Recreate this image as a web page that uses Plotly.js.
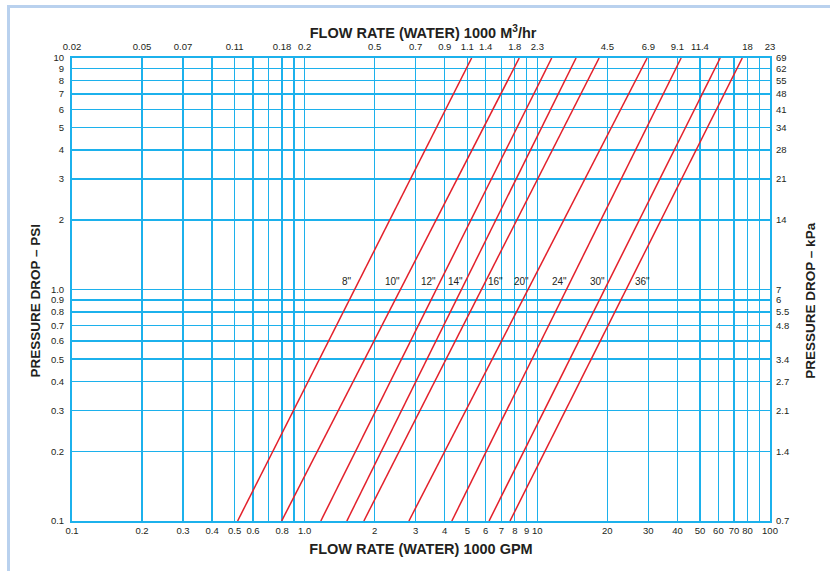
<!DOCTYPE html>
<html>
<head>
<meta charset="utf-8">
<script src="https://cdn.plot.ly/plotly-3.0.1.min.js"></script>
<style>
html,body{margin:0;padding:0;background:#fff;}
#frame{position:absolute;left:7px;top:5px;width:823px;height:566px;border-top:3px solid #b9d1ee;border-left:3px solid #b9d1ee;box-sizing:border-box;}
#chart{position:absolute;left:0;top:0;width:830px;height:571px;}
</style>
</head>
<body>
<div id="frame"></div>
<div id="chart"></div>
<script>
// Pipe sizes and flow (1000 GPM) read at 0.1 psi and at 10 psi
const pipeSizes = ['8"', '10"', '12"', '14"', '16"', '20"', '24"', '30"', '36"'];
const flowAtLowP = [0.515, 0.796, 1.173, 1.518, 1.796, 2.805, 4.29, 6.2, 7.63];
const flowAtHighP = [5.22, 8.36, 11.53, 14.67, 18.43, 29.65, 41.5, 61.1, 76.0];
const pressureEnds = [0.1, 10];

// label positions (log10 flow) for pipe size labels
const labelFlowLog = [0.181, 0.379, 0.534, 0.648, 0.822, 0.930, 1.0955, 1.257, 1.4505];
const labelPressLog = 0.035;

// Bottom axis (1000 GPM)
const gpmTickVals = [0.1,0.2,0.3,0.4,0.5,0.6,0.7,0.8,0.9,1,2,3,4,5,6,7,8,9,10,20,30,40,50,60,70,80,90,100];
const gpmTickText = ['0.1','0.2','0.3','0.4','0.5','0.6','','0.8','','1.0','2','3','4','5','6','7','8','9','10','20','30','40','50','60','70','80','','100'];
// Top axis (1000 m3/hr)
const m3TickVals = [0.1,0.2,0.3,0.5,0.8,1,2,3,4,5,6,8,10,20,30,40,50,80,100];
const m3TickText = ['0.02','0.05','0.07','0.11','0.18','0.2','0.5','0.7','0.9','1.1','1.4','1.8','2.3','4.5','6.9','9.1','11.4','18','23'];
// Left axis (psi)
const psiTickVals = [0.1,0.2,0.3,0.4,0.5,0.6,0.7,0.8,0.9,1,2,3,4,5,6,7,8,9,10];
const psiTickText = ['0.1','0.2','0.3','0.4','0.5','0.6','0.7','0.8','0.9','1.0','2','3','4','5','6','7','8','9','10'];
// Right axis (kPa)
const kpaTickVals = [0.1,0.2,0.3,0.4,0.5,0.7,0.8,0.9,1,2,3,4,5,6,7,8,9,10];
const kpaTickText = ['0.7','1.4','2.1','2.7','3.4','4.8','5.5','6','7','14','21','28','34','41','48','55','62','69'];

const red = '#e3202b';
const gridBlue = '#1cb1ec';
const txt = '#231f20';
const font = 'Liberation Sans, Arial, Helvetica, sans-serif';
const pad = '<span style="color:rgba(0,0,0,0)">MM</span>';

const traces = pipeSizes.map((name, i) => ({
  type: 'scatter', mode: 'lines', name: name,
  x: [flowAtLowP[i], flowAtHighP[i]],
  y: pressureEnds,
  line: {color: red, width: 1.5},
  hoverinfo: 'x+y+name', showlegend: false
}));
// anchors for secondary axes
traces.push({type:'scatter', mode:'markers', x:[0.1,100], y:[0.1,10], xaxis:'x2', yaxis:'y2',
  marker:{opacity:0}, hoverinfo:'skip', showlegend:false});

const annotations = pipeSizes.map((name, i) => ({
  x: labelFlowLog[i], y: labelPressLog, xref: 'x', yref: 'y',
  text: name, showarrow: false,
  font: {family: font, size: 10, color: txt},
  xanchor: 'center', yanchor: 'middle'
}));

const tickFont = {family: font, size: 9.5, color: txt};
const titleFontX = {family: font, size: 14.5, color: txt, weight: 'bold'};
const titleFontY = {family: font, size: 13.5, color: txt, weight: 'bold'};

const layout = {
  width: 830, height: 571,
  margin: {l: 72, r: 60, t: 58, b: 50, pad: 0},
  paper_bgcolor: 'rgba(0,0,0,0)', plot_bgcolor: '#fff',
  showlegend: false,
  title: {text: 'FLOW RATE (WATER) 1000 M<sup>3</sup>/hr', font: titleFontX,
          x: 0.503, xanchor: 'center', xref: 'paper', y: 1 - 33/571, yref: 'container', yanchor: 'middle'},
  xaxis: {
    type: 'log', range: [-1, 2], tickmode: 'array', tickvals: gpmTickVals, ticktext: gpmTickText,
    tickangle: 0, ticks: '', tickfont: tickFont,
    showgrid: true, gridcolor: gridBlue, gridwidth: 1.4,
    showline: true, linecolor: gridBlue, linewidth: 2, mirror: true, zeroline: false,
    title: {text: 'FLOW RATE (WATER) 1000 GPM', font: titleFontX, standoff: 8}
  },
  xaxis2: {
    type: 'log', range: [-1, 2], overlaying: 'x', side: 'top', anchor: 'y',
    tickmode: 'array', tickvals: m3TickVals, ticktext: m3TickText, tickangle: 0,
    ticks: '', ticklabelstandoff: 5, tickfont: tickFont, showgrid: false, zeroline: false, showline: false
  },
  yaxis: {
    type: 'log', range: [-1, 1], tickmode: 'array', tickvals: psiTickVals, ticktext: psiTickText,
    ticks: '', ticklabelstandoff: 4, tickfont: tickFont,
    showgrid: true, gridcolor: gridBlue, gridwidth: 1.4,
    showline: true, linecolor: gridBlue, linewidth: 2, mirror: true, zeroline: false,
    title: {text: 'PRESSURE DROP \u2013 PSI' + pad, font: titleFontY, standoff: 7}
  },
  yaxis2: {
    type: 'log', range: [-1, 1], overlaying: 'y', side: 'right', anchor: 'x',
    tickmode: 'array', tickvals: kpaTickVals, ticktext: kpaTickText,
    ticks: '', ticklabelstandoff: 5, tickfont: tickFont, showgrid: false, zeroline: false, showline: false,
    title: {text: 'PRESSURE DROP \u2013 kPa' + pad, font: titleFontY, standoff: 17}
  },
  annotations: annotations
};

Plotly.newPlot('chart', traces, layout, {displayModeBar: false, staticPlot: true});
</script>
</body>
</html>
